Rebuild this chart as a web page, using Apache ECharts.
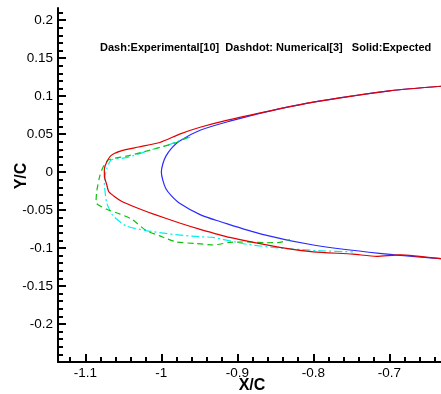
<!DOCTYPE html>
<html><head><meta charset="utf-8">
<script src="https://cdn.jsdelivr.net/npm/echarts@6/dist/echarts.min.js"></script>
<style>html,body{margin:0;padding:0;background:#fff}#c{width:441px;height:394px}</style>
</head><body><div id="c"></div>
<script>
// Expected (blue, solid)
var blueX = [-0.632,-0.70,-0.75,-0.80,-0.855,-0.91,-0.949,-0.976,-0.987,-0.994,-0.998,-1.0,-0.998,-0.994,-0.987,-0.976,-0.949,-0.923,-0.867,-0.80,-0.713,-0.632];
var blueY = [0.113,0.107,0.100,0.092,0.081,0.067,0.055,0.041,0.031,0.021,0.011,0.0,-0.011,-0.022,-0.031,-0.041,-0.056,-0.065,-0.082,-0.096,-0.107,-0.114];
// Red (solid)
var redX = [-0.632,-0.70,-0.80,-0.855,-0.917,-0.949,-0.976,-1.002,-1.030,-1.053,-1.066,-1.072,-1.075,-1.075,-1.072,-1.069,-1.053,-1.030,-1.011,-0.976,-0.950,-0.910,-0.844,-0.80,-0.748,-0.717,-0.686,-0.632];
var redY = [0.113,0.107,0.092,0.081,0.0675,0.059,0.050,0.039,0.033,0.028,0.022,0.013,0.004,-0.005,-0.016,-0.026,-0.038,-0.048,-0.055,-0.067,-0.075,-0.086,-0.099,-0.105,-0.108,-0.111,-0.109,-0.114];
// Numerical[3] (cyan, dashdot)
var numX = [-0.962,-0.972,-0.990,-1.011,-1.046,-1.066,-1.072,-1.075,-1.072,-1.064,-1.046,-1.020,-0.985,-0.950,-0.932,-0.888,-0.844,-0.792,-0.748];
var numY = [0.046,0.043,0.036,0.030,0.019,0.016,0.004,-0.0135,-0.040,-0.057,-0.071,-0.077,-0.082,-0.085,-0.086,-0.095,-0.100,-0.1035,-0.105];
// Experimental[10] (green, dash)
var expX = [-0.965,-0.980,-1.007,-1.026,-1.046,-1.070,-1.077,-1.081,-1.085,-1.086,-1.072,-1.055,-1.039,-1.020,-1.002,-0.980,-0.954,-0.932,-0.910,-0.888,-0.862,-0.844,-0.831];
var expY = [0.046,0.039,0.031,0.026,0.021,0.016,0.006,-0.005,-0.025,-0.040,-0.049,-0.055,-0.062,-0.077,-0.084,-0.092,-0.094,-0.096,-0.0925,-0.092,-0.093,-0.0925,-0.089];

var xMajor = [-1.1,-1.0,-0.9,-0.8,-0.7];
var xMajorLabels = ['-1.1','-1','-0.9','-0.8','-0.7'];
var xMinor = [-1.12,-1.08,-1.06,-1.04,-1.02,-0.98,-0.96,-0.94,-0.92,-0.88,-0.86,-0.84,-0.82,-0.78,-0.76,-0.74,-0.72,-0.68,-0.66,-0.64];
var yMajor = [-0.2,-0.15,-0.1,-0.05,0,0.05,0.1,0.15,0.2];
var yMajorLabels = ['-0.2','-0.15','-0.1','-0.05','0','0.05','0.1','0.15','0.2'];
var yMinor = [-0.24,-0.23,-0.22,-0.21,-0.19,-0.18,-0.17,-0.16,-0.14,-0.13,-0.12,-0.11,-0.09,-0.08,-0.07,-0.06,-0.04,-0.03,-0.02,-0.01,0.01,0.02,0.03,0.04,0.06,0.07,0.08,0.09,0.11,0.12,0.13,0.14,0.16,0.17,0.18,0.19,0.21];
var legendText = 'Dash:Experimental[10]  Dashdot: Numerical[3]   Solid:Expected';

function zip(a,b){return a.map(function(v,i){return [v,b[i]];});}
function fmtX(v){var i=xMajor.findIndex(function(m){return Math.abs(m-v)<1e-6;});return i>=0?xMajorLabels[i]:'';}
function fmtY(v){var i=yMajor.findIndex(function(m){return Math.abs(m-v)<1e-6;});return i>=0?yMajorLabels[i]:'';}

var XMIN=-1.136, XMAX=-0.632, YMIN=-0.25, YMAX=0.216;
var gridPos = {left:58, right:0, top:8, bottom:32};
var font = 'Liberation Sans, Arial, sans-serif';

var chart = echarts.init(document.getElementById('c'), null, {renderer:'canvas'});
chart.setOption({
  animation:false,
  backgroundColor:'#fff',
  grid:[Object.assign({containLabel:false},gridPos), Object.assign({containLabel:false},gridPos)],
  xAxis:[
    {type:'value', gridIndex:0, min:XMIN, max:XMAX, splitLine:{show:false},
     axisLine:{show:true, onZero:false, lineStyle:{color:'#000', width:2}},
     axisTick:{show:true, inside:true, length:8, customValues:xMajor, lineStyle:{color:'#000', width:2}},
     axisLabel:{show:true, customValues:xMajor, formatter:fmtX, color:'#000', fontSize:13.5, fontFamily:font, margin:4}},
    {type:'value', gridIndex:1, min:XMIN, max:XMAX, splitLine:{show:false},
     axisLine:{show:false, onZero:false},
     axisTick:{show:true, inside:true, length:5, customValues:xMinor, lineStyle:{color:'#000', width:2}},
     axisLabel:{show:false}}
  ],
  yAxis:[
    {type:'value', gridIndex:0, min:YMIN, max:YMAX, splitLine:{show:false},
     axisLine:{show:true, onZero:false, lineStyle:{color:'#000', width:2}},
     axisTick:{show:true, inside:true, length:8, customValues:yMajor, lineStyle:{color:'#000', width:2}},
     axisLabel:{show:true, customValues:yMajor, formatter:fmtY, color:'#000', fontSize:13.5, fontFamily:font, margin:5}},
    {type:'value', gridIndex:1, min:YMIN, max:YMAX, splitLine:{show:false},
     axisLine:{show:false, onZero:false},
     axisTick:{show:true, inside:true, length:5, customValues:yMinor, lineStyle:{color:'#000', width:2}},
     axisLabel:{show:false}}
  ],
  graphic:[
    {type:'text', x:100, y:48, style:{text:legendText, font:'bold 11px '+font, fill:'#000', align:'left', verticalAlign:'middle'}},
    {type:'text', x:252, y:386, style:{text:'X/C', font:'bold 16px '+font, fill:'#000', align:'center', verticalAlign:'middle'}},
    {type:'text', x:22, y:176, rotation:Math.PI/2, style:{text:'Y/C', font:'bold 16px '+font, fill:'#000', align:'center', verticalAlign:'middle'}}
  ],
  series:[
    {type:'line', xAxisIndex:0, yAxisIndex:0, data:zip(blueX,blueY), showSymbol:false, smooth:0.3, lineStyle:{color:'#2a2aff', width:1.2}},
    {type:'line', xAxisIndex:0, yAxisIndex:0, data:zip(numX,numY), showSymbol:false, smooth:0.2, lineStyle:{color:'#00f0f0', width:1.2, type:[8,3,2,3]}},
    {type:'line', xAxisIndex:0, yAxisIndex:0, data:zip(expX,expY), showSymbol:false, smooth:0.2, lineStyle:{color:'#10c010', width:1.2, type:[6,4]}},
    {type:'line', xAxisIndex:0, yAxisIndex:0, data:zip(redX,redY), showSymbol:false, smooth:0.2, lineStyle:{color:'#e00000', width:1.2}}
  ]
});
</script></body></html>
